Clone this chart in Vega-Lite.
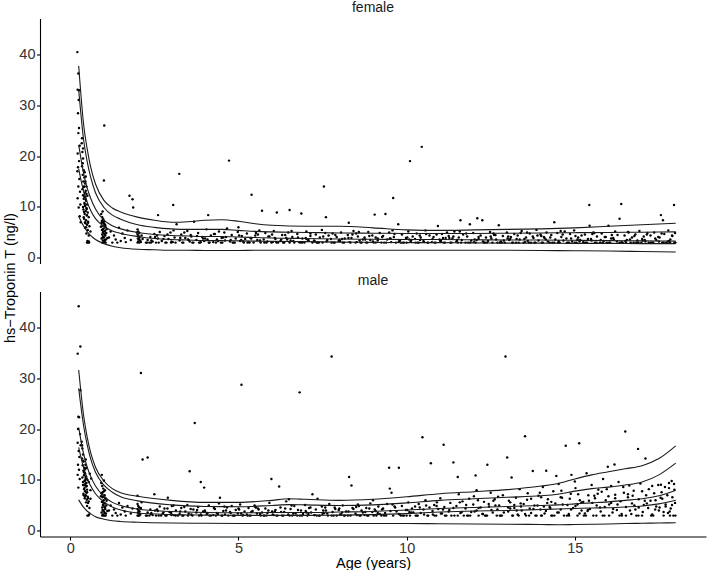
{
  "$schema": "https://vega.github.io/schema/vega-lite/v6.json",
  "padding": {"left": 2, "top": 0.5, "right": 2, "bottom": 0},
  "bounds": "flush",
  "spacing": 28,
  "config": {
    "font": "Liberation Sans",
    "view": {"stroke": null},
    "axis": {"grid": false, "domainColor": "#000", "domainWidth": 1.1, "tickColor": "#000", "tickWidth": 1.1, "tickSize": 3.5, "labelFontSize": 14.5, "labelColor": "#333", "labelPadding": 1.5, "labelFlush": false, "titleFontSize": 14.5, "titleFontWeight": "normal", "titleColor": "#000", "titlePadding": 1},
    "title": {"fontSize": 14, "fontWeight": "normal", "color": "#1a1a1a", "offset": 3.5, "anchor": "middle"}
  },
  "datasets": {
    "female_points": [
      {"age":0.21,"tnt":40.4},{"age":0.24,"tnt":36.2},{"age":0.22,"tnt":33.0},{"age":0.27,"tnt":32.9},{"age":0.25,"tnt":31.0},{"age":0.23,"tnt":28.4},{"age":0.26,"tnt":25.5},{"age":0.24,"tnt":24.5},{"age":0.28,"tnt":22.0},{"age":0.22,"tnt":20.5},{"age":0.26,"tnt":19.0},{"age":0.23,"tnt":17.8},{"age":0.21,"tnt":17.0},{"age":0.27,"tnt":15.5},{"age":0.24,"tnt":14.0},{"age":0.29,"tnt":13.0},{"age":0.22,"tnt":11.7},{"age":0.3,"tnt":10.5},{"age":0.25,"tnt":9.9},{"age":0.28,"tnt":8.2},{"age":0.31,"tnt":7.0},
      {"age":0.34,"tnt":22.5},{"age":0.36,"tnt":20.8},{"age":0.38,"tnt":19.5},{"age":0.35,"tnt":18.0},{"age":0.4,"tnt":17.2},{"age":0.37,"tnt":16.3},{"age":0.42,"tnt":15.8},{"age":0.39,"tnt":15.0},{"age":0.44,"tnt":14.6},{"age":0.41,"tnt":14.0},{"age":0.36,"tnt":13.5},{"age":0.46,"tnt":13.2},{"age":0.43,"tnt":12.8},{"age":0.38,"tnt":12.3},{"age":0.45,"tnt":12.0},{"age":0.4,"tnt":11.6},{"age":0.47,"tnt":11.2},{"age":0.42,"tnt":10.8},{"age":0.5,"tnt":10.5},{"age":0.44,"tnt":10.2},{"age":0.48,"tnt":9.8},{"age":0.39,"tnt":9.5},{"age":0.46,"tnt":9.2},{"age":0.52,"tnt":8.9},{"age":0.43,"tnt":8.6},{"age":0.49,"tnt":8.3},{"age":0.55,"tnt":8.0},{"age":0.41,"tnt":7.7},{"age":0.47,"tnt":7.4},{"age":0.53,"tnt":7.1},{"age":0.45,"tnt":6.8},{"age":0.5,"tnt":6.5},{"age":0.57,"tnt":6.2},{"age":0.44,"tnt":5.9},{"age":0.52,"tnt":5.5},{"age":0.6,"tnt":5.2},{"age":0.48,"tnt":4.8},{"age":0.55,"tnt":4.4},{"age":0.51,"tnt":3.3},{"age":0.53,"tnt":3.1},{"age":0.55,"tnt":3.2},{"age":0.52,"tnt":3.0},{"age":0.56,"tnt":3.0},{"age":0.5,"tnt":3.0},{"age":0.38,"tnt":21.5},{"age":0.35,"tnt":23.5},{"age":0.43,"tnt":16.8},{"age":0.48,"tnt":12.6},{"age":0.4,"tnt":13.9},{"age":0.37,"tnt":18.6},
      {"age":0.38,"tnt":10.0},{"age":0.41,"tnt":9.0},{"age":0.44,"tnt":7.0},{"age":0.46,"tnt":11.5},{"age":0.49,"tnt":9.6},{"age":0.42,"tnt":12.0},{"age":0.47,"tnt":6.0},{"age":0.5,"tnt":8.4},{"age":0.45,"tnt":15.0},{"age":0.43,"tnt":10.6},{"age":0.48,"tnt":14.0},{"age":0.4,"tnt":8.0},{"age":0.53,"tnt":6.9},{"age":0.46,"tnt":16.0},{"age":0.51,"tnt":12.2},
      {"age":0.92,"tnt":8.6},{"age":0.95,"tnt":8.0},{"age":0.98,"tnt":7.6},{"age":1.0,"tnt":7.2},{"age":0.93,"tnt":6.9},{"age":1.02,"tnt":6.6},{"age":0.96,"tnt":6.3},{"age":1.05,"tnt":6.0},{"age":0.99,"tnt":5.8},{"age":0.94,"tnt":5.5},{"age":1.03,"tnt":5.3},{"age":0.97,"tnt":5.0},{"age":1.01,"tnt":4.8},{"age":0.95,"tnt":4.6},{"age":1.04,"tnt":4.4},{"age":0.98,"tnt":4.2},{"age":1.0,"tnt":4.0},{"age":0.93,"tnt":3.8},{"age":1.06,"tnt":3.6},{"age":0.97,"tnt":3.4},{"age":1.02,"tnt":3.2},{"age":0.99,"tnt":3.0},{"age":0.95,"tnt":3.0},{"age":1.05,"tnt":3.0},{"age":1.08,"tnt":5.6},{"age":0.91,"tnt":6.1},{"age":1.0,"tnt":15.2},{"age":1.01,"tnt":26.0},{"age":0.94,"tnt":7.3},{"age":1.07,"tnt":4.9},{"age":0.96,"tnt":9.1},{"age":1.1,"tnt":3.9},
      {"age":0.97,"tnt":5.6},{"age":1.0,"tnt":6.8},{"age":1.03,"tnt":4.6},{"age":0.95,"tnt":7.0},{"age":1.02,"tnt":3.5},{"age":0.98,"tnt":5.2},{"age":1.04,"tnt":6.4},{"age":0.96,"tnt":4.0},
      {"age":1.2,"tnt":5.2},{"age":1.3,"tnt":4.4},{"age":1.35,"tnt":3.6},{"age":1.45,"tnt":5.9},{"age":1.5,"tnt":3.3},{"age":1.55,"tnt":4.8},{"age":1.62,"tnt":3.9},{"age":1.7,"tnt":5.4},{"age":1.76,"tnt":12.2},{"age":1.85,"tnt":11.5},{"age":1.87,"tnt":9.9},{"age":1.8,"tnt":3.5},{"age":1.65,"tnt":3.1},{"age":1.4,"tnt":3.0},{"age":1.25,"tnt":3.0},{"age":1.15,"tnt":4.0},
      {"age":2.0,"tnt":5.6},{"age":2.02,"tnt":5.2},{"age":2.05,"tnt":4.9},{"age":2.0,"tnt":4.6},{"age":2.03,"tnt":4.3},{"age":2.06,"tnt":4.0},{"age":2.01,"tnt":3.8},{"age":2.04,"tnt":3.6},{"age":2.08,"tnt":3.4},{"age":2.02,"tnt":3.2},{"age":2.05,"tnt":3.0},{"age":2.0,"tnt":3.0},{"age":2.1,"tnt":3.1},{"age":2.12,"tnt":4.4},{"age":2.15,"tnt":3.7},{"age":1.98,"tnt":5.0},
      {"age":2.25,"tnt":3.0},{"age":2.3,"tnt":3.5},{"age":2.38,"tnt":4.1},{"age":2.45,"tnt":3.2},{"age":2.5,"tnt":4.7},{"age":2.55,"tnt":3.0},{"age":2.6,"tnt":3.8},{"age":2.66,"tnt":5.1},{"age":2.4,"tnt":3.0},{"age":2.61,"tnt":8.4},
      {"age":2.72,"tnt":3.3},{"age":2.8,"tnt":4.3},{"age":2.86,"tnt":3.0},{"age":2.92,"tnt":3.7},{"age":2.98,"tnt":5.0},{"age":3.05,"tnt":3.1},{"age":3.1,"tnt":4.0},{"age":3.16,"tnt":6.6},{"age":3.24,"tnt":16.5},{"age":3.06,"tnt":10.4},{"age":3.0,"tnt":3.0},
      {"age":3.25,"tnt":3.4},{"age":3.3,"tnt":4.6},{"age":3.36,"tnt":3.0},{"age":3.42,"tnt":3.9},{"age":3.48,"tnt":5.3},{"age":3.55,"tnt":3.2},{"age":3.6,"tnt":4.2},{"age":3.66,"tnt":3.0},{"age":3.68,"tnt":7.1},{"age":3.5,"tnt":3.6},
      {"age":3.75,"tnt":3.5},{"age":3.8,"tnt":4.9},{"age":3.86,"tnt":3.0},{"age":3.92,"tnt":4.1},{"age":3.98,"tnt":3.3},{"age":4.05,"tnt":5.6},{"age":4.1,"tnt":8.4},{"age":4.12,"tnt":3.0},{"age":4.18,"tnt":4.4},{"age":3.95,"tnt":3.8},
      {"age":4.25,"tnt":3.1},{"age":4.3,"tnt":4.7},{"age":4.36,"tnt":3.6},{"age":4.42,"tnt":5.2},{"age":4.48,"tnt":3.0},{"age":4.55,"tnt":4.0},{"age":4.6,"tnt":3.4},{"age":4.66,"tnt":5.8},{"age":4.72,"tnt":19.1},{"age":4.5,"tnt":3.9},
      {"age":4.75,"tnt":3.2},{"age":4.8,"tnt":4.5},{"age":4.86,"tnt":3.0},{"age":4.92,"tnt":3.8},{"age":4.98,"tnt":5.1},{"age":5.05,"tnt":3.3},{"age":5.1,"tnt":4.3},{"age":5.16,"tnt":3.0},{"age":5.0,"tnt":6.0},{"age":5.2,"tnt":3.7},
      {"age":5.25,"tnt":4.8},{"age":5.3,"tnt":3.1},{"age":5.36,"tnt":3.9},{"age":5.39,"tnt":12.4},{"age":5.45,"tnt":3.0},{"age":5.5,"tnt":4.4},{"age":5.56,"tnt":3.5},{"age":5.62,"tnt":5.4},{"age":5.7,"tnt":9.25},{"age":5.66,"tnt":3.0},
      {"age":5.75,"tnt":3.6},{"age":5.8,"tnt":4.9},{"age":5.86,"tnt":3.2},{"age":5.92,"tnt":4.2},{"age":5.98,"tnt":3.0},{"age":6.05,"tnt":5.3},{"age":6.1,"tnt":3.7},{"age":6.14,"tnt":8.9},{"age":6.18,"tnt":3.0},{"age":6.0,"tnt":4.6},
      {"age":6.25,"tnt":3.3},{"age":6.3,"tnt":4.5},{"age":6.36,"tnt":3.0},{"age":6.42,"tnt":3.9},{"age":6.48,"tnt":5.0},{"age":6.52,"tnt":9.4},{"age":6.55,"tnt":3.4},{"age":6.6,"tnt":4.1},{"age":6.66,"tnt":3.0},{"age":6.45,"tnt":3.6},
      {"age":6.75,"tnt":4.7},{"age":6.8,"tnt":3.1},{"age":6.87,"tnt":8.7},{"age":6.9,"tnt":3.8},{"age":6.96,"tnt":3.0},{"age":7.02,"tnt":5.2},{"age":7.08,"tnt":3.5},{"age":7.14,"tnt":4.3},{"age":7.2,"tnt":3.0},{"age":7.0,"tnt":3.9},
      {"age":7.25,"tnt":3.4},{"age":7.3,"tnt":4.6},{"age":7.36,"tnt":3.0},{"age":7.42,"tnt":4.0},{"age":7.48,"tnt":5.5},{"age":7.54,"tnt":14.0},{"age":7.6,"tnt":8.0},{"age":7.62,"tnt":3.2},{"age":7.68,"tnt":4.4},{"age":7.5,"tnt":3.0},
      {"age":7.75,"tnt":3.7},{"age":7.8,"tnt":4.8},{"age":7.86,"tnt":3.0},{"age":7.92,"tnt":4.1},{"age":7.98,"tnt":3.3},{"age":8.05,"tnt":5.0},{"age":8.1,"tnt":3.0},{"age":8.16,"tnt":3.8},{"age":8.28,"tnt":6.9},{"age":8.0,"tnt":3.5},
      {"age":8.25,"tnt":4.5},{"age":8.3,"tnt":3.1},{"age":8.36,"tnt":3.9},{"age":8.42,"tnt":5.3},{"age":8.48,"tnt":3.0},{"age":8.55,"tnt":4.2},{"age":8.6,"tnt":3.4},{"age":8.66,"tnt":3.0},{"age":8.5,"tnt":4.8},{"age":8.7,"tnt":3.6},
      {"age":8.75,"tnt":4.0},{"age":8.8,"tnt":3.0},{"age":8.86,"tnt":5.1},{"age":8.92,"tnt":3.5},{"age":8.98,"tnt":4.4},{"age":9.05,"tnt":8.5},{"age":9.08,"tnt":3.0},{"age":9.14,"tnt":3.8},{"age":9.2,"tnt":4.9},{"age":9.0,"tnt":3.2},
      {"age":9.25,"tnt":3.0},{"age":9.3,"tnt":4.3},{"age":9.37,"tnt":8.6},{"age":9.42,"tnt":3.6},{"age":9.48,"tnt":5.0},{"age":9.54,"tnt":3.1},{"age":9.6,"tnt":11.75},{"age":9.62,"tnt":4.1},{"age":9.68,"tnt":3.0},{"age":9.5,"tnt":3.8},
      {"age":9.75,"tnt":6.6},{"age":9.8,"tnt":3.4},{"age":9.86,"tnt":4.6},{"age":9.92,"tnt":3.0},{"age":9.98,"tnt":3.9},{"age":10.05,"tnt":5.2},{"age":10.1,"tnt":19.0},{"age":10.12,"tnt":3.2},{"age":10.18,"tnt":4.2},{"age":10.0,"tnt":3.0},
      {"age":10.25,"tnt":3.7},{"age":10.3,"tnt":4.8},{"age":10.36,"tnt":3.0},{"age":10.45,"tnt":21.8},{"age":10.42,"tnt":4.0},{"age":10.5,"tnt":3.3},{"age":10.56,"tnt":5.4},{"age":10.62,"tnt":3.0},{"age":10.68,"tnt":4.4},{"age":10.4,"tnt":3.5},
      {"age":10.75,"tnt":3.1},{"age":10.8,"tnt":4.1},{"age":10.86,"tnt":3.0},{"age":10.93,"tnt":6.25},{"age":10.98,"tnt":3.6},{"age":11.05,"tnt":4.7},{"age":11.1,"tnt":3.0},{"age":11.16,"tnt":3.9},{"age":11.2,"tnt":5.0},{"age":11.0,"tnt":3.3},
      {"age":11.25,"tnt":4.3},{"age":11.3,"tnt":3.0},{"age":11.36,"tnt":3.8},{"age":11.42,"tnt":5.2},{"age":11.48,"tnt":3.2},{"age":11.55,"tnt":4.0},{"age":11.6,"tnt":7.4},{"age":11.62,"tnt":3.0},{"age":11.68,"tnt":4.6},{"age":11.5,"tnt":3.5},
      {"age":11.75,"tnt":3.0},{"age":11.8,"tnt":4.2},{"age":11.88,"tnt":6.6},{"age":11.92,"tnt":3.4},{"age":11.98,"tnt":4.9},{"age":12.05,"tnt":3.0},{"age":12.1,"tnt":7.8},{"age":12.14,"tnt":3.7},{"age":12.2,"tnt":4.4},{"age":12.0,"tnt":3.1},
      {"age":12.25,"tnt":7.4},{"age":12.3,"tnt":3.0},{"age":12.36,"tnt":4.0},{"age":12.42,"tnt":3.3},{"age":12.48,"tnt":5.1},{"age":12.55,"tnt":3.0},{"age":12.6,"tnt":4.5},{"age":12.66,"tnt":3.6},{"age":12.7,"tnt":3.0},{"age":12.5,"tnt":4.2},
      {"age":12.74,"tnt":6.4},{"age":12.8,"tnt":3.2},{"age":12.86,"tnt":4.3},{"age":12.92,"tnt":3.0},{"age":12.98,"tnt":5.0},{"age":13.05,"tnt":3.5},{"age":13.1,"tnt":4.1},{"age":13.16,"tnt":3.0},{"age":13.2,"tnt":4.7},{"age":13.0,"tnt":3.8},
      {"age":13.25,"tnt":3.0},{"age":13.3,"tnt":4.4},{"age":13.36,"tnt":3.6},{"age":13.42,"tnt":5.3},{"age":13.48,"tnt":3.0},{"age":13.55,"tnt":4.0},{"age":13.6,"tnt":3.3},{"age":13.66,"tnt":4.8},{"age":13.7,"tnt":3.0},{"age":13.5,"tnt":3.7},
      {"age":13.75,"tnt":4.2},{"age":13.8,"tnt":3.0},{"age":13.86,"tnt":5.5},{"age":13.92,"tnt":3.4},{"age":13.98,"tnt":4.6},{"age":14.05,"tnt":3.0},{"age":14.1,"tnt":3.9},{"age":14.16,"tnt":5.0},{"age":14.2,"tnt":3.2},{"age":14.0,"tnt":4.3},
      {"age":14.25,"tnt":3.0},{"age":14.3,"tnt":4.5},{"age":14.39,"tnt":7.0},{"age":14.42,"tnt":3.6},{"age":14.48,"tnt":4.9},{"age":14.55,"tnt":3.0},{"age":14.6,"tnt":4.1},{"age":14.66,"tnt":3.4},{"age":14.7,"tnt":5.2},{"age":14.5,"tnt":3.0},
      {"age":14.75,"tnt":3.8},{"age":14.8,"tnt":3.0},{"age":14.86,"tnt":4.7},{"age":14.92,"tnt":3.2},{"age":14.98,"tnt":5.4},{"age":15.05,"tnt":3.0},{"age":15.1,"tnt":4.0},{"age":15.16,"tnt":3.5},{"age":15.2,"tnt":4.4},{"age":15.0,"tnt":3.0},
      {"age":15.25,"tnt":3.1},{"age":15.3,"tnt":4.6},{"age":15.36,"tnt":3.0},{"age":15.43,"tnt":10.4},{"age":15.44,"tnt":6.3},{"age":15.48,"tnt":3.7},{"age":15.55,"tnt":5.0},{"age":15.6,"tnt":3.0},{"age":15.66,"tnt":4.2},{"age":15.5,"tnt":3.4},
      {"age":15.75,"tnt":3.0},{"age":15.8,"tnt":4.8},{"age":15.86,"tnt":3.3},{"age":15.92,"tnt":4.1},{"age":16.0,"tnt":6.3},{"age":16.05,"tnt":3.0},{"age":16.1,"tnt":4.5},{"age":16.16,"tnt":3.6},{"age":16.2,"tnt":5.2},{"age":15.95,"tnt":3.0},
      {"age":16.25,"tnt":3.2},{"age":16.33,"tnt":7.7},{"age":16.38,"tnt":10.6},{"age":16.42,"tnt":3.0},{"age":16.48,"tnt":4.4},{"age":16.55,"tnt":3.5},{"age":16.6,"tnt":5.0},{"age":16.66,"tnt":3.0},{"age":16.7,"tnt":4.0},{"age":16.5,"tnt":3.3},
      {"age":16.75,"tnt":3.0},{"age":16.8,"tnt":4.6},{"age":16.86,"tnt":3.4},{"age":16.92,"tnt":5.3},{"age":16.98,"tnt":3.0},{"age":17.05,"tnt":4.2},{"age":17.1,"tnt":3.2},{"age":17.16,"tnt":4.9},{"age":17.2,"tnt":3.0},{"age":17.0,"tnt":3.7},
      {"age":17.25,"tnt":4.4},{"age":17.3,"tnt":3.0},{"age":17.36,"tnt":5.0},{"age":17.42,"tnt":3.5},{"age":17.48,"tnt":4.1},{"age":17.56,"tnt":8.4},{"age":17.62,"tnt":7.4},{"age":17.6,"tnt":3.0},{"age":17.66,"tnt":4.7},{"age":17.5,"tnt":3.2},
      {"age":17.72,"tnt":3.0},{"age":17.78,"tnt":5.4},{"age":17.84,"tnt":3.6},{"age":17.9,"tnt":4.3},{"age":17.95,"tnt":10.4},{"age":17.96,"tnt":3.0},{"age":17.98,"tnt":4.9},{"age":17.8,"tnt":3.3},
      {"age":2.28,"tnt":3.0},{"age":2.41,"tnt":3.4},{"age":2.52,"tnt":4.1},{"age":2.63,"tnt":3.0},{"age":2.77,"tnt":3.7},{"age":2.89,"tnt":4.6},{"age":3.01,"tnt":3.2},{"age":3.13,"tnt":3.0},{"age":3.27,"tnt":3.9},{"age":3.39,"tnt":5.0},{"age":3.52,"tnt":3.5},{"age":3.63,"tnt":3.0},{"age":3.77,"tnt":4.3},{"age":3.88,"tnt":3.1},{"age":4.01,"tnt":3.8},{"age":4.14,"tnt":3.0},{"age":4.27,"tnt":4.7},{"age":4.39,"tnt":3.3},{"age":4.52,"tnt":3.0},{"age":4.63,"tnt":4.1},{"age":4.77,"tnt":3.5},{"age":4.89,"tnt":3.0},{"age":5.02,"tnt":4.4},{"age":5.14,"tnt":3.2},{"age":5.27,"tnt":3.0},{"age":5.38,"tnt":3.8},{"age":5.52,"tnt":4.9},{"age":5.64,"tnt":3.4},{"age":5.77,"tnt":3.0},{"age":5.89,"tnt":4.2},{"age":6.02,"tnt":3.1},{"age":6.13,"tnt":3.0},{"age":6.27,"tnt":3.6},{"age":6.39,"tnt":4.5},{"age":6.52,"tnt":3.0},{"age":6.63,"tnt":3.3},{"age":6.77,"tnt":4.0},{"age":6.89,"tnt":3.0},{"age":7.02,"tnt":3.7},{"age":7.14,"tnt":4.8},{"age":7.27,"tnt":3.2},{"age":7.39,"tnt":3.0},{"age":7.52,"tnt":4.2},{"age":7.64,"tnt":3.5},{"age":7.77,"tnt":3.0},{"age":7.88,"tnt":4.5},{"age":8.02,"tnt":3.3},{"age":8.14,"tnt":3.0},{"age":8.27,"tnt":3.9},{"age":8.39,"tnt":4.6},{"age":8.52,"tnt":3.1},{"age":8.63,"tnt":3.0},{"age":8.77,"tnt":3.6},{"age":8.89,"tnt":4.3},{"age":9.02,"tnt":3.0},{"age":9.14,"tnt":3.4},{"age":9.27,"tnt":4.1},{"age":9.39,"tnt":3.0},{"age":9.52,"tnt":3.8},{"age":9.64,"tnt":4.7},{"age":9.77,"tnt":3.2},{"age":9.89,"tnt":3.0},{"age":10.02,"tnt":4.0},{"age":10.14,"tnt":3.5},{"age":10.27,"tnt":3.0},{"age":10.39,"tnt":4.4},{"age":10.52,"tnt":3.1},{"age":10.64,"tnt":3.0},{"age":10.77,"tnt":3.7},{"age":10.89,"tnt":4.6},{"age":11.02,"tnt":3.3},{"age":11.14,"tnt":3.0},{"age":11.27,"tnt":3.9},{"age":11.39,"tnt":4.2},{"age":11.52,"tnt":3.0},{"age":11.64,"tnt":3.5},{"age":11.77,"tnt":4.8},{"age":11.89,"tnt":3.0},{"age":12.02,"tnt":3.6},{"age":12.14,"tnt":4.1},{"age":12.27,"tnt":3.2},{"age":12.39,"tnt":3.0},{"age":12.52,"tnt":3.8},{"age":12.64,"tnt":4.5},{"age":12.77,"tnt":3.0},{"age":12.89,"tnt":3.4},{"age":13.02,"tnt":4.2},{"age":13.14,"tnt":3.0},{"age":13.27,"tnt":3.7},{"age":13.39,"tnt":4.9},{"age":13.52,"tnt":3.1},{"age":13.64,"tnt":3.0},{"age":13.77,"tnt":3.9},{"age":13.89,"tnt":4.4},{"age":14.02,"tnt":3.0},{"age":14.14,"tnt":3.6},{"age":14.27,"tnt":4.0},{"age":14.39,"tnt":3.0},{"age":14.52,"tnt":3.3},{"age":14.64,"tnt":4.6},{"age":14.77,"tnt":3.0},{"age":14.89,"tnt":3.8},{"age":15.02,"tnt":4.3},{"age":15.14,"tnt":3.2},{"age":15.27,"tnt":3.0},{"age":15.39,"tnt":3.7},{"age":15.52,"tnt":4.7},{"age":15.64,"tnt":3.0},{"age":15.77,"tnt":3.5},{"age":15.89,"tnt":4.1},{"age":16.02,"tnt":3.0},{"age":16.14,"tnt":3.9},{"age":16.27,"tnt":4.5},{"age":16.39,"tnt":3.1},{"age":16.52,"tnt":3.0},{"age":16.64,"tnt":3.6},{"age":16.77,"tnt":4.3},{"age":16.89,"tnt":3.0},{"age":17.02,"tnt":3.4},{"age":17.14,"tnt":4.6},{"age":17.27,"tnt":3.0},{"age":17.39,"tnt":3.8},{"age":17.52,"tnt":4.0},{"age":17.64,"tnt":3.0},{"age":17.77,"tnt":3.2},{"age":17.89,"tnt":4.4},{"age":17.99,"tnt":3.0},
      {"age":2.35,"tnt":3.0},{"age":2.58,"tnt":4.4},{"age":2.83,"tnt":3.0},{"age":3.07,"tnt":5.4},{"age":3.33,"tnt":3.0},{"age":3.58,"tnt":4.5},{"age":3.83,"tnt":3.0},{"age":4.08,"tnt":3.6},{"age":4.33,"tnt":3.0},{"age":4.58,"tnt":5.0},{"age":4.83,"tnt":3.0},{"age":5.08,"tnt":3.5},{"age":5.33,"tnt":3.0},{"age":5.58,"tnt":4.6},{"age":5.83,"tnt":3.0},{"age":6.08,"tnt":3.9},{"age":6.33,"tnt":3.0},{"age":6.58,"tnt":5.3},{"age":6.83,"tnt":3.0},{"age":7.08,"tnt":3.4},{"age":7.33,"tnt":3.0},{"age":7.58,"tnt":4.9},{"age":7.83,"tnt":3.0},{"age":8.08,"tnt":3.7},{"age":8.33,"tnt":3.0},{"age":8.58,"tnt":5.1},{"age":8.83,"tnt":3.0},{"age":9.08,"tnt":4.0},{"age":9.33,"tnt":3.0},{"age":9.58,"tnt":5.4},{"age":9.83,"tnt":3.0},{"age":10.08,"tnt":3.6},{"age":10.33,"tnt":3.0},{"age":10.58,"tnt":4.7},{"age":10.83,"tnt":3.0},{"age":11.08,"tnt":3.9},{"age":11.33,"tnt":3.0},{"age":11.58,"tnt":5.2},{"age":11.83,"tnt":3.0},{"age":12.08,"tnt":3.5},{"age":12.33,"tnt":3.0},{"age":12.58,"tnt":4.8},{"age":12.83,"tnt":3.0},{"age":13.08,"tnt":3.7},{"age":13.33,"tnt":3.0},{"age":13.58,"tnt":5.0},{"age":13.83,"tnt":3.0},{"age":14.08,"tnt":4.1},{"age":14.33,"tnt":3.0},{"age":14.58,"tnt":5.3},{"age":14.83,"tnt":3.0},{"age":15.08,"tnt":3.6},{"age":15.33,"tnt":3.0},{"age":15.58,"tnt":4.9},{"age":15.83,"tnt":3.0},{"age":16.08,"tnt":3.8},{"age":16.33,"tnt":3.0},{"age":16.58,"tnt":5.1},{"age":16.83,"tnt":3.0},{"age":17.08,"tnt":3.5},{"age":17.33,"tnt":3.0},{"age":17.58,"tnt":4.8},{"age":17.83,"tnt":3.0}
    ],
    "male_points": [
      {"age":0.25,"tnt":44.1},{"age":0.3,"tnt":36.2},{"age":0.22,"tnt":34.8},{"age":0.24,"tnt":22.4},{"age":0.26,"tnt":22.3},{"age":0.23,"tnt":20.0},{"age":0.22,"tnt":17.3},{"age":0.25,"tnt":15.7},{"age":0.27,"tnt":14.5},{"age":0.23,"tnt":13.0},{"age":0.26,"tnt":12.0},{"age":0.22,"tnt":11.0},{"age":0.28,"tnt":10.2},{"age":0.24,"tnt":8.5},{"age":0.3,"tnt":27.6},{"age":0.29,"tnt":19.0},{"age":0.31,"tnt":16.8},
      {"age":0.34,"tnt":17.5},{"age":0.36,"tnt":16.2},{"age":0.38,"tnt":15.0},{"age":0.35,"tnt":14.2},{"age":0.4,"tnt":13.6},{"age":0.37,"tnt":12.9},{"age":0.42,"tnt":12.4},{"age":0.39,"tnt":11.8},{"age":0.44,"tnt":11.3},{"age":0.41,"tnt":10.9},{"age":0.36,"tnt":10.5},{"age":0.46,"tnt":10.2},{"age":0.43,"tnt":9.9},{"age":0.38,"tnt":9.6},{"age":0.45,"tnt":9.3},{"age":0.4,"tnt":9.0},{"age":0.47,"tnt":8.7},{"age":0.42,"tnt":8.4},{"age":0.5,"tnt":8.1},{"age":0.44,"tnt":7.8},{"age":0.48,"tnt":7.5},{"age":0.39,"tnt":7.3},{"age":0.46,"tnt":7.0},{"age":0.52,"tnt":6.7},{"age":0.43,"tnt":6.4},{"age":0.49,"tnt":6.1},{"age":0.55,"tnt":5.8},{"age":0.41,"tnt":11.5},{"age":0.47,"tnt":10.7},{"age":0.53,"tnt":5.5},{"age":0.45,"tnt":8.9},{"age":0.5,"tnt":4.9},{"age":0.57,"tnt":4.5},{"age":0.44,"tnt":12.1},{"age":0.48,"tnt":9.4},{"age":0.51,"tnt":3.0},{"age":0.54,"tnt":3.0},{"age":0.56,"tnt":3.2},{"age":0.6,"tnt":6.3},{"age":0.58,"tnt":11.2},{"age":0.62,"tnt":10.3},{"age":0.38,"tnt":13.8},{"age":0.35,"tnt":16.8},{"age":0.6,"tnt":8.0},{"age":0.55,"tnt":9.6},
      {"age":0.38,"tnt":9.0},{"age":0.41,"tnt":8.2},{"age":0.44,"tnt":6.8},{"age":0.46,"tnt":10.5},{"age":0.49,"tnt":8.8},{"age":0.42,"tnt":11.0},{"age":0.47,"tnt":5.6},{"age":0.5,"tnt":7.6},{"age":0.45,"tnt":13.0},{"age":0.43,"tnt":9.8},{"age":0.48,"tnt":12.4},{"age":0.4,"tnt":7.0},{"age":0.53,"tnt":6.4},{"age":0.46,"tnt":14.0},{"age":0.51,"tnt":10.0},
      {"age":0.92,"tnt":9.4},{"age":0.95,"tnt":8.8},{"age":0.98,"tnt":8.3},{"age":1.0,"tnt":7.8},{"age":0.93,"tnt":7.4},{"age":1.02,"tnt":7.0},{"age":0.96,"tnt":6.6},{"age":1.05,"tnt":6.3},{"age":0.99,"tnt":6.0},{"age":0.94,"tnt":5.7},{"age":1.03,"tnt":5.4},{"age":0.97,"tnt":5.1},{"age":1.01,"tnt":4.8},{"age":0.95,"tnt":4.6},{"age":1.04,"tnt":4.3},{"age":0.98,"tnt":4.0},{"age":1.0,"tnt":3.8},{"age":0.93,"tnt":3.6},{"age":1.06,"tnt":3.4},{"age":0.97,"tnt":3.2},{"age":1.02,"tnt":3.0},{"age":0.99,"tnt":3.0},{"age":0.95,"tnt":3.0},{"age":1.05,"tnt":3.0},{"age":1.08,"tnt":5.9},{"age":0.91,"tnt":6.8},{"age":0.94,"tnt":11.0},{"age":1.0,"tnt":9.9},{"age":1.07,"tnt":5.0},{"age":0.96,"tnt":7.6},{"age":1.1,"tnt":3.9},{"age":1.03,"tnt":8.0},
      {"age":0.97,"tnt":5.6},{"age":1.0,"tnt":6.8},{"age":1.03,"tnt":4.6},{"age":0.95,"tnt":7.2},{"age":1.02,"tnt":3.5},{"age":0.98,"tnt":5.2},{"age":1.04,"tnt":6.4},{"age":0.96,"tnt":4.1},
      {"age":1.2,"tnt":5.0},{"age":1.3,"tnt":4.2},{"age":1.35,"tnt":3.5},{"age":1.45,"tnt":5.5},{"age":1.5,"tnt":3.2},{"age":1.55,"tnt":4.6},{"age":1.62,"tnt":3.8},{"age":1.7,"tnt":4.9},{"age":1.8,"tnt":3.4},{"age":1.65,"tnt":3.0},{"age":1.4,"tnt":3.0},{"age":1.25,"tnt":3.0},{"age":1.15,"tnt":4.0},{"age":1.85,"tnt":4.4},
      {"age":2.0,"tnt":5.3},{"age":2.02,"tnt":4.9},{"age":2.05,"tnt":4.6},{"age":2.0,"tnt":4.3},{"age":2.03,"tnt":4.0},{"age":2.06,"tnt":3.8},{"age":2.01,"tnt":3.6},{"age":2.04,"tnt":3.4},{"age":2.08,"tnt":3.2},{"age":2.02,"tnt":3.0},{"age":2.05,"tnt":3.0},{"age":2.0,"tnt":3.0},{"age":2.1,"tnt":4.5},{"age":2.12,"tnt":5.6},{"age":2.1,"tnt":31.0},{"age":2.15,"tnt":14.0},{"age":2.3,"tnt":14.4},{"age":2.0,"tnt":6.9},
      {"age":2.25,"tnt":3.0},{"age":2.3,"tnt":3.6},{"age":2.38,"tnt":4.2},{"age":2.45,"tnt":3.1},{"age":2.5,"tnt":7.2},{"age":2.55,"tnt":3.0},{"age":2.6,"tnt":3.9},{"age":2.66,"tnt":4.8},{"age":2.4,"tnt":3.3},{"age":2.7,"tnt":3.0},
      {"age":2.75,"tnt":3.4},{"age":2.8,"tnt":4.4},{"age":2.86,"tnt":3.0},{"age":2.9,"tnt":6.5},{"age":2.95,"tnt":3.7},{"age":3.02,"tnt":4.9},{"age":3.08,"tnt":3.1},{"age":3.14,"tnt":4.0},{"age":3.2,"tnt":3.0},{"age":3.0,"tnt":3.5},
      {"age":3.25,"tnt":3.3},{"age":3.3,"tnt":4.5},{"age":3.36,"tnt":3.0},{"age":3.42,"tnt":3.8},{"age":3.48,"tnt":5.1},{"age":3.55,"tnt":11.7},{"age":3.6,"tnt":3.2},{"age":3.66,"tnt":4.2},{"age":3.7,"tnt":21.2},{"age":3.5,"tnt":3.0},
      {"age":3.75,"tnt":3.6},{"age":3.8,"tnt":4.7},{"age":3.88,"tnt":9.6},{"age":3.9,"tnt":3.0},{"age":3.98,"tnt":8.5},{"age":4.0,"tnt":4.0},{"age":4.06,"tnt":3.3},{"age":4.12,"tnt":5.0},{"age":4.18,"tnt":3.0},{"age":3.95,"tnt":3.8},
      {"age":4.25,"tnt":3.1},{"age":4.3,"tnt":4.3},{"age":4.36,"tnt":3.5},{"age":4.42,"tnt":5.4},{"age":4.45,"tnt":6.5},{"age":4.5,"tnt":3.0},{"age":4.55,"tnt":3.9},{"age":4.6,"tnt":3.2},{"age":4.66,"tnt":4.6},{"age":4.7,"tnt":3.0},
      {"age":4.75,"tnt":3.7},{"age":4.8,"tnt":4.9},{"age":4.86,"tnt":3.0},{"age":4.92,"tnt":4.1},{"age":4.98,"tnt":3.4},{"age":5.05,"tnt":5.2},{"age":5.09,"tnt":28.7},{"age":5.12,"tnt":3.0},{"age":5.18,"tnt":3.8},{"age":5.0,"tnt":4.4},
      {"age":5.25,"tnt":3.2},{"age":5.3,"tnt":4.5},{"age":5.36,"tnt":3.0},{"age":5.42,"tnt":3.9},{"age":5.48,"tnt":5.0},{"age":5.55,"tnt":3.4},{"age":5.6,"tnt":4.2},{"age":5.66,"tnt":3.0},{"age":5.7,"tnt":3.6},{"age":5.5,"tnt":4.7},
      {"age":5.75,"tnt":3.0},{"age":5.8,"tnt":4.4},{"age":5.86,"tnt":3.5},{"age":5.92,"tnt":5.5},{"age":5.98,"tnt":10.2},{"age":6.05,"tnt":3.1},{"age":6.1,"tnt":4.1},{"age":6.16,"tnt":3.0},{"age":6.21,"tnt":8.7},{"age":6.0,"tnt":3.8},
      {"age":6.25,"tnt":4.6},{"age":6.3,"tnt":3.0},{"age":6.36,"tnt":3.7},{"age":6.42,"tnt":5.8},{"age":6.48,"tnt":3.2},{"age":6.55,"tnt":4.3},{"age":6.6,"tnt":3.0},{"age":6.66,"tnt":4.9},{"age":6.7,"tnt":3.4},{"age":6.5,"tnt":6.2},
      {"age":6.75,"tnt":3.0},{"age":6.82,"tnt":27.2},{"age":6.86,"tnt":4.0},{"age":6.92,"tnt":3.3},{"age":6.98,"tnt":5.1},{"age":7.05,"tnt":3.0},{"age":7.1,"tnt":4.5},{"age":7.16,"tnt":3.6},{"age":7.2,"tnt":7.2},{"age":7.0,"tnt":3.9},
      {"age":7.25,"tnt":3.1},{"age":7.3,"tnt":4.2},{"age":7.35,"tnt":6.3},{"age":7.42,"tnt":3.0},{"age":7.48,"tnt":4.8},{"age":7.55,"tnt":3.5},{"age":7.6,"tnt":4.0},{"age":7.66,"tnt":3.0},{"age":7.7,"tnt":5.3},{"age":7.5,"tnt":3.3},
      {"age":7.77,"tnt":34.25},{"age":7.8,"tnt":3.7},{"age":7.86,"tnt":4.6},{"age":7.92,"tnt":3.0},{"age":7.98,"tnt":4.1},{"age":8.05,"tnt":3.2},{"age":8.1,"tnt":5.0},{"age":8.16,"tnt":3.0},{"age":8.2,"tnt":3.8},{"age":8.0,"tnt":4.4},
      {"age":8.25,"tnt":3.0},{"age":8.29,"tnt":10.6},{"age":8.36,"tnt":8.9},{"age":8.42,"tnt":4.3},{"age":8.48,"tnt":3.4},{"age":8.55,"tnt":5.2},{"age":8.6,"tnt":3.0},{"age":8.66,"tnt":4.0},{"age":8.7,"tnt":3.6},{"age":8.5,"tnt":4.7},
      {"age":8.75,"tnt":3.1},{"age":8.8,"tnt":4.5},{"age":8.86,"tnt":3.0},{"age":8.92,"tnt":5.4},{"age":8.98,"tnt":3.7},{"age":9.05,"tnt":4.2},{"age":9.1,"tnt":3.0},{"age":9.16,"tnt":4.8},{"age":9.2,"tnt":3.3},{"age":9.0,"tnt":6.0},
      {"age":9.25,"tnt":3.0},{"age":9.3,"tnt":4.4},{"age":9.36,"tnt":3.5},{"age":9.42,"tnt":5.3},{"age":9.48,"tnt":12.4},{"age":9.5,"tnt":8.3},{"age":9.55,"tnt":7.5},{"age":9.6,"tnt":3.0},{"age":9.66,"tnt":4.6},{"age":9.7,"tnt":3.8},
      {"age":9.77,"tnt":12.4},{"age":9.8,"tnt":3.2},{"age":9.86,"tnt":4.9},{"age":9.92,"tnt":3.0},{"age":9.98,"tnt":4.1},{"age":10.05,"tnt":5.6},{"age":10.1,"tnt":3.0},{"age":10.16,"tnt":4.4},{"age":10.2,"tnt":3.6},{"age":10.0,"tnt":3.0},
      {"age":10.25,"tnt":4.8},{"age":10.3,"tnt":3.0},{"age":10.36,"tnt":5.3},{"age":10.42,"tnt":3.5},{"age":10.47,"tnt":18.4},{"age":10.5,"tnt":4.2},{"age":10.56,"tnt":6.0},{"age":10.62,"tnt":3.0},{"age":10.68,"tnt":4.6},{"age":10.72,"tnt":13.3},
      {"age":10.78,"tnt":3.2},{"age":10.82,"tnt":5.1},{"age":10.88,"tnt":3.0},{"age":10.94,"tnt":4.3},{"age":11.0,"tnt":6.4},{"age":11.05,"tnt":3.4},{"age":11.1,"tnt":16.9},{"age":11.12,"tnt":4.7},{"age":11.18,"tnt":3.0},{"age":10.9,"tnt":5.6},
      {"age":11.25,"tnt":3.8},{"age":11.3,"tnt":5.5},{"age":11.39,"tnt":13.45},{"age":11.42,"tnt":3.0},{"age":11.48,"tnt":4.9},{"age":11.52,"tnt":10.6},{"age":11.55,"tnt":7.2},{"age":11.6,"tnt":3.5},{"age":11.66,"tnt":5.8},{"age":11.7,"tnt":3.0},
      {"age":11.75,"tnt":4.4},{"age":11.8,"tnt":3.0},{"age":11.86,"tnt":6.3},{"age":11.92,"tnt":3.7},{"age":11.98,"tnt":5.2},{"age":12.05,"tnt":10.9},{"age":12.08,"tnt":8.0},{"age":12.14,"tnt":3.0},{"age":12.2,"tnt":4.6},{"age":12.0,"tnt":6.8},
      {"age":12.25,"tnt":3.3},{"age":12.3,"tnt":5.7},{"age":12.36,"tnt":3.0},{"age":12.4,"tnt":13.0},{"age":12.45,"tnt":4.8},{"age":12.5,"tnt":7.5},{"age":12.56,"tnt":3.6},{"age":12.62,"tnt":6.2},{"age":12.68,"tnt":3.0},{"age":12.7,"tnt":4.2},
      {"age":12.75,"tnt":5.0},{"age":12.8,"tnt":3.0},{"age":12.86,"tnt":7.0},{"age":12.94,"tnt":34.25},{"age":12.99,"tnt":14.4},{"age":13.02,"tnt":3.8},{"age":13.08,"tnt":5.6},{"age":13.12,"tnt":10.5},{"age":13.16,"tnt":3.0},{"age":13.2,"tnt":4.5},
      {"age":13.25,"tnt":6.5},{"age":13.3,"tnt":3.2},{"age":13.36,"tnt":8.2},{"age":13.42,"tnt":4.0},{"age":13.48,"tnt":5.3},{"age":13.52,"tnt":18.6},{"age":13.55,"tnt":3.0},{"age":13.6,"tnt":7.4},{"age":13.66,"tnt":4.4},{"age":13.7,"tnt":3.5},
      {"age":13.75,"tnt":11.75},{"age":13.8,"tnt":5.0},{"age":13.86,"tnt":3.0},{"age":13.92,"tnt":6.9},{"age":13.98,"tnt":4.2},{"age":14.05,"tnt":8.6},{"age":14.1,"tnt":3.4},{"age":14.15,"tnt":11.8},{"age":14.18,"tnt":5.5},{"age":14.0,"tnt":3.0},{"age":14.2,"tnt":6.2},
      {"age":14.25,"tnt":4.7},{"age":14.3,"tnt":3.0},{"age":14.36,"tnt":7.8},{"age":14.42,"tnt":5.4},{"age":14.48,"tnt":3.6},{"age":14.52,"tnt":9.2},{"age":14.58,"tnt":4.2},{"age":14.62,"tnt":6.5},{"age":14.68,"tnt":3.0},{"age":14.73,"tnt":16.7},{"age":14.45,"tnt":10.8},
      {"age":14.78,"tnt":5.1},{"age":14.82,"tnt":3.3},{"age":14.88,"tnt":7.3},{"age":14.9,"tnt":11.0},{"age":14.95,"tnt":4.5},{"age":15.02,"tnt":8.4},{"age":15.08,"tnt":3.0},{"age":15.13,"tnt":17.2},{"age":15.15,"tnt":6.0},{"age":15.2,"tnt":4.0},{"age":15.0,"tnt":9.7},
      {"age":15.25,"tnt":5.7},{"age":15.3,"tnt":3.4},{"age":15.35,"tnt":11.3},{"age":15.4,"tnt":7.0},{"age":15.45,"tnt":4.3},{"age":15.5,"tnt":9.0},{"age":15.55,"tnt":3.0},{"age":15.6,"tnt":6.4},{"age":15.65,"tnt":5.0},{"age":15.7,"tnt":8.1},{"age":15.38,"tnt":3.9},
      {"age":15.75,"tnt":4.6},{"age":15.8,"tnt":7.7},{"age":15.84,"tnt":10.2},{"age":15.88,"tnt":3.0},{"age":15.92,"tnt":6.0},{"age":15.98,"tnt":12.6},{"age":16.02,"tnt":5.2},{"age":16.08,"tnt":8.8},{"age":16.12,"tnt":3.6},{"age":16.18,"tnt":13.05},{"age":16.2,"tnt":7.1},
      {"age":16.25,"tnt":4.1},{"age":16.3,"tnt":9.6},{"age":16.36,"tnt":5.8},{"age":16.4,"tnt":3.0},{"age":16.46,"tnt":7.5},{"age":16.5,"tnt":19.5},{"age":16.52,"tnt":4.7},{"age":16.58,"tnt":6.6},{"age":16.62,"tnt":8.9},{"age":16.68,"tnt":3.3},{"age":16.7,"tnt":5.4},
      {"age":16.75,"tnt":7.9},{"age":16.8,"tnt":4.2},{"age":16.88,"tnt":16.1},{"age":16.9,"tnt":6.2},{"age":16.95,"tnt":9.3},{"age":17.0,"tnt":3.0},{"age":17.05,"tnt":5.1},{"age":17.1,"tnt":14.2},{"age":17.12,"tnt":7.0},{"age":17.18,"tnt":4.5},{"age":17.2,"tnt":8.2},
      {"age":17.25,"tnt":5.9},{"age":17.3,"tnt":3.2},{"age":17.36,"tnt":7.4},{"age":17.42,"tnt":4.8},{"age":17.48,"tnt":9.0},{"age":17.56,"tnt":9.05},{"age":17.6,"tnt":6.3},{"age":17.64,"tnt":3.7},{"age":17.68,"tnt":8.6},{"age":17.7,"tnt":5.2},{"age":17.5,"tnt":4.0},
      {"age":17.75,"tnt":7.0},{"age":17.8,"tnt":9.4},{"age":17.85,"tnt":4.4},{"age":17.9,"tnt":6.6},{"age":17.93,"tnt":3.0},{"age":17.96,"tnt":8.1},{"age":17.98,"tnt":5.5},{"age":17.88,"tnt":9.8},{"age":17.82,"tnt":3.8},
      {"age":2.28,"tnt":3.0},{"age":2.41,"tnt":3.5},{"age":2.52,"tnt":4.0},{"age":2.63,"tnt":3.0},{"age":2.77,"tnt":3.6},{"age":2.89,"tnt":4.4},{"age":3.01,"tnt":3.1},{"age":3.13,"tnt":3.0},{"age":3.27,"tnt":3.8},{"age":3.39,"tnt":4.7},{"age":3.52,"tnt":3.4},{"age":3.63,"tnt":3.0},{"age":3.77,"tnt":4.1},{"age":3.88,"tnt":3.2},{"age":4.01,"tnt":3.7},{"age":4.14,"tnt":3.0},{"age":4.27,"tnt":4.5},{"age":4.39,"tnt":3.3},{"age":4.52,"tnt":3.0},{"age":4.63,"tnt":4.0},{"age":4.77,"tnt":3.5},{"age":4.89,"tnt":3.0},{"age":5.02,"tnt":4.2},{"age":5.14,"tnt":3.1},{"age":5.27,"tnt":3.0},{"age":5.38,"tnt":3.7},{"age":5.52,"tnt":4.6},{"age":5.64,"tnt":3.3},{"age":5.77,"tnt":3.0},{"age":5.89,"tnt":4.0},{"age":6.02,"tnt":3.2},{"age":6.13,"tnt":3.0},{"age":6.27,"tnt":3.7},{"age":6.39,"tnt":4.4},{"age":6.52,"tnt":3.0},{"age":6.63,"tnt":3.4},{"age":6.77,"tnt":4.1},{"age":6.89,"tnt":3.0},{"age":7.02,"tnt":3.6},{"age":7.14,"tnt":4.6},{"age":7.27,"tnt":3.1},{"age":7.39,"tnt":3.0},{"age":7.52,"tnt":4.0},{"age":7.64,"tnt":3.4},{"age":7.77,"tnt":3.0},{"age":7.88,"tnt":4.3},{"age":8.02,"tnt":3.2},{"age":8.14,"tnt":3.0},{"age":8.27,"tnt":3.8},{"age":8.39,"tnt":4.5},{"age":8.52,"tnt":3.1},{"age":8.63,"tnt":3.0},{"age":8.77,"tnt":3.7},{"age":8.89,"tnt":4.4},{"age":9.02,"tnt":3.0},{"age":9.14,"tnt":3.5},{"age":9.27,"tnt":4.2},{"age":9.39,"tnt":3.0},{"age":9.52,"tnt":3.9},{"age":9.64,"tnt":4.8},{"age":9.77,"tnt":3.3},{"age":9.89,"tnt":3.0},{"age":10.02,"tnt":4.1},{"age":10.14,"tnt":3.6},{"age":10.27,"tnt":3.0},{"age":10.39,"tnt":4.6},{"age":10.52,"tnt":3.2},{"age":10.64,"tnt":3.0},{"age":10.77,"tnt":3.9},{"age":10.89,"tnt":4.9},{"age":11.02,"tnt":3.4},{"age":11.14,"tnt":3.0},{"age":11.27,"tnt":4.1},{"age":11.39,"tnt":4.5},{"age":11.52,"tnt":3.0},{"age":11.64,"tnt":3.7},{"age":11.77,"tnt":5.1},{"age":11.89,"tnt":3.0},{"age":12.02,"tnt":3.8},{"age":12.14,"tnt":4.5},{"age":12.27,"tnt":3.3},{"age":12.39,"tnt":3.0},{"age":12.52,"tnt":4.1},{"age":12.64,"tnt":5.0},{"age":12.77,"tnt":3.0},{"age":12.89,"tnt":3.6},{"age":13.02,"tnt":4.6},{"age":13.14,"tnt":3.0},{"age":13.27,"tnt":4.0},{"age":13.39,"tnt":5.4},{"age":13.52,"tnt":3.3},{"age":13.64,"tnt":3.0},{"age":13.77,"tnt":4.3},{"age":13.89,"tnt":5.0},{"age":14.02,"tnt":3.0},{"age":14.14,"tnt":3.9},{"age":14.27,"tnt":4.5},{"age":14.39,"tnt":3.0},{"age":14.52,"tnt":3.6},{"age":14.64,"tnt":5.2},{"age":14.77,"tnt":3.0},{"age":14.89,"tnt":4.2},{"age":15.02,"tnt":4.9},{"age":15.14,"tnt":3.4},{"age":15.27,"tnt":3.0},{"age":15.39,"tnt":4.1},{"age":15.52,"tnt":5.5},{"age":15.64,"tnt":3.0},{"age":15.77,"tnt":3.8},{"age":15.89,"tnt":4.7},{"age":16.02,"tnt":3.0},{"age":16.14,"tnt":4.3},{"age":16.27,"tnt":5.2},{"age":16.39,"tnt":3.3},{"age":16.52,"tnt":3.0},{"age":16.64,"tnt":4.0},{"age":16.77,"tnt":5.0},{"age":16.89,"tnt":3.0},{"age":17.02,"tnt":3.7},{"age":17.14,"tnt":5.4},{"age":17.27,"tnt":3.0},{"age":17.39,"tnt":4.2},{"age":17.52,"tnt":4.6},{"age":17.64,"tnt":3.0},{"age":17.77,"tnt":3.5},{"age":17.89,"tnt":5.1},{"age":17.99,"tnt":3.0},
      {"age":2.35,"tnt":3.0},{"age":2.58,"tnt":4.2},{"age":2.83,"tnt":3.0},{"age":3.07,"tnt":5.0},{"age":3.33,"tnt":3.0},{"age":3.58,"tnt":4.3},{"age":3.83,"tnt":3.0},{"age":4.08,"tnt":3.5},{"age":4.33,"tnt":3.0},{"age":4.58,"tnt":4.8},{"age":4.83,"tnt":3.0},{"age":5.08,"tnt":3.4},{"age":5.33,"tnt":3.0},{"age":5.58,"tnt":4.4},{"age":5.83,"tnt":3.0},{"age":6.08,"tnt":3.8},{"age":6.33,"tnt":3.0},{"age":6.58,"tnt":5.0},{"age":6.83,"tnt":3.0},{"age":7.08,"tnt":3.3},{"age":7.33,"tnt":3.0},{"age":7.58,"tnt":4.6},{"age":7.83,"tnt":3.0},{"age":8.08,"tnt":3.6},{"age":8.33,"tnt":3.0},{"age":8.58,"tnt":4.9},{"age":8.83,"tnt":3.0},{"age":9.08,"tnt":3.9},{"age":9.33,"tnt":3.0},{"age":9.58,"tnt":5.2},{"age":9.83,"tnt":3.0},{"age":10.08,"tnt":3.7},{"age":10.33,"tnt":3.0},{"age":10.58,"tnt":5.0},{"age":10.83,"tnt":3.0},{"age":11.08,"tnt":4.2},{"age":11.33,"tnt":3.0},{"age":11.58,"tnt":5.6},{"age":11.83,"tnt":3.0},{"age":12.08,"tnt":4.0},{"age":12.33,"tnt":3.0},{"age":12.58,"tnt":5.9},{"age":12.83,"tnt":3.0},{"age":13.08,"tnt":4.4},{"age":13.33,"tnt":3.0},{"age":13.58,"tnt":6.1},{"age":13.83,"tnt":3.0},{"age":14.08,"tnt":4.8},{"age":14.33,"tnt":3.0},{"age":14.58,"tnt":6.6},{"age":14.83,"tnt":3.0},{"age":15.08,"tnt":5.2},{"age":15.33,"tnt":3.0},{"age":15.58,"tnt":6.9},{"age":15.83,"tnt":3.0},{"age":16.08,"tnt":5.5},{"age":16.33,"tnt":3.0},{"age":16.58,"tnt":7.2},{"age":16.83,"tnt":3.0},{"age":17.08,"tnt":5.9},{"age":17.33,"tnt":3.0},{"age":17.58,"tnt":7.6},{"age":17.83,"tnt":3.0},
      {"age":12.12,"tnt":6.0},{"age":12.44,"tnt":5.3},{"age":12.72,"tnt":6.7},{"age":13.04,"tnt":5.9},{"age":13.4,"tnt":4.8},{"age":13.7,"tnt":6.3},{"age":13.96,"tnt":7.5},{"age":14.3,"tnt":5.7},{"age":14.6,"tnt":7.9},{"age":14.85,"tnt":6.3},{"age":15.1,"tnt":7.2},{"age":15.42,"tnt":5.9},{"age":15.68,"tnt":7.3},{"age":15.95,"tnt":8.2},{"age":16.2,"tnt":6.4},{"age":16.44,"tnt":8.6},{"age":16.72,"tnt":6.9},{"age":17.0,"tnt":7.8},{"age":17.3,"tnt":8.8},{"age":17.55,"tnt":6.5},{"age":17.8,"tnt":8.4},{"age":17.95,"tnt":9.2},{"age":13.2,"tnt":5.1},{"age":14.0,"tnt":6.6},{"age":15.2,"tnt":5.6},{"age":16.0,"tnt":6.8},{"age":16.9,"tnt":4.6},{"age":17.4,"tnt":6.0},{"age":17.7,"tnt":4.8}
    ],
    "female_curves": [
      {"pct":"P97.5","age":0.25,"tnt":37.7},{"pct":"P97.5","age":0.4,"tnt":26.0},{"pct":"P97.5","age":0.5,"tnt":21.5},{"pct":"P97.5","age":0.6,"tnt":18.0},{"pct":"P97.5","age":0.75,"tnt":14.5},{"pct":"P97.5","age":1,"tnt":11.3},{"pct":"P97.5","age":1.25,"tnt":9.8},{"pct":"P97.5","age":1.5,"tnt":9.0},{"pct":"P97.5","age":2,"tnt":8.0},{"pct":"P97.5","age":2.5,"tnt":7.4},{"pct":"P97.5","age":3,"tnt":7.0},{"pct":"P97.5","age":3.5,"tnt":7.1},{"pct":"P97.5","age":4,"tnt":7.4},{"pct":"P97.5","age":4.5,"tnt":7.5},{"pct":"P97.5","age":5,"tnt":7.2},{"pct":"P97.5","age":5.5,"tnt":6.7},{"pct":"P97.5","age":6,"tnt":6.4},{"pct":"P97.5","age":7,"tnt":6.2},{"pct":"P97.5","age":8,"tnt":6.2},{"pct":"P97.5","age":9,"tnt":5.9},{"pct":"P97.5","age":10,"tnt":5.5},{"pct":"P97.5","age":11,"tnt":5.4},{"pct":"P97.5","age":12,"tnt":5.5},{"pct":"P97.5","age":13,"tnt":5.6},{"pct":"P97.5","age":14,"tnt":5.7},{"pct":"P97.5","age":15,"tnt":5.9},{"pct":"P97.5","age":16,"tnt":6.2},{"pct":"P97.5","age":17,"tnt":6.5},{"pct":"P97.5","age":18,"tnt":6.8},
      {"pct":"P90","age":0.25,"tnt":33.0},{"pct":"P90","age":0.4,"tnt":23.0},{"pct":"P90","age":0.5,"tnt":19.0},{"pct":"P90","age":0.6,"tnt":16.0},{"pct":"P90","age":0.75,"tnt":12.8},{"pct":"P90","age":1,"tnt":9.9},{"pct":"P90","age":1.25,"tnt":8.4},{"pct":"P90","age":1.5,"tnt":7.6},{"pct":"P90","age":2,"tnt":6.5},{"pct":"P90","age":2.5,"tnt":6.0},{"pct":"P90","age":3,"tnt":5.7},{"pct":"P90","age":3.5,"tnt":5.6},{"pct":"P90","age":4,"tnt":5.6},{"pct":"P90","age":4.5,"tnt":5.6},{"pct":"P90","age":5,"tnt":5.4},{"pct":"P90","age":5.5,"tnt":5.2},{"pct":"P90","age":6,"tnt":5.1},{"pct":"P90","age":7,"tnt":5.0},{"pct":"P90","age":8,"tnt":4.9},{"pct":"P90","age":9,"tnt":4.85},{"pct":"P90","age":10,"tnt":4.8},{"pct":"P90","age":11,"tnt":4.8},{"pct":"P90","age":12,"tnt":4.8},{"pct":"P90","age":13,"tnt":4.85},{"pct":"P90","age":14,"tnt":4.9},{"pct":"P90","age":15,"tnt":4.95},{"pct":"P90","age":16,"tnt":5.0},{"pct":"P90","age":17,"tnt":5.05},{"pct":"P90","age":18,"tnt":5.1},
      {"pct":"P75","age":0.25,"tnt":22.2},{"pct":"P75","age":0.4,"tnt":16.5},{"pct":"P75","age":0.5,"tnt":13.8},{"pct":"P75","age":0.6,"tnt":11.8},{"pct":"P75","age":0.75,"tnt":9.6},{"pct":"P75","age":1,"tnt":7.4},{"pct":"P75","age":1.25,"tnt":6.3},{"pct":"P75","age":1.5,"tnt":5.7},{"pct":"P75","age":2,"tnt":5.0},{"pct":"P75","age":2.5,"tnt":4.6},{"pct":"P75","age":3,"tnt":4.4},{"pct":"P75","age":3.5,"tnt":4.3},{"pct":"P75","age":4,"tnt":4.2},{"pct":"P75","age":4.5,"tnt":4.2},{"pct":"P75","age":5,"tnt":4.1},{"pct":"P75","age":5.5,"tnt":4.0},{"pct":"P75","age":6,"tnt":3.9},{"pct":"P75","age":7,"tnt":3.8},{"pct":"P75","age":8,"tnt":3.7},{"pct":"P75","age":9,"tnt":3.65},{"pct":"P75","age":10,"tnt":3.6},{"pct":"P75","age":11,"tnt":3.6},{"pct":"P75","age":12,"tnt":3.55},{"pct":"P75","age":13,"tnt":3.5},{"pct":"P75","age":14,"tnt":3.5},{"pct":"P75","age":15,"tnt":3.45},{"pct":"P75","age":16,"tnt":3.4},{"pct":"P75","age":17,"tnt":3.35},{"pct":"P75","age":18,"tnt":3.3},
      {"pct":"P50","age":0.25,"tnt":17.5},{"pct":"P50","age":0.4,"tnt":13.0},{"pct":"P50","age":0.5,"tnt":11.0},{"pct":"P50","age":0.6,"tnt":9.4},{"pct":"P50","age":0.75,"tnt":7.7},{"pct":"P50","age":1,"tnt":6.2},{"pct":"P50","age":1.25,"tnt":5.3},{"pct":"P50","age":1.5,"tnt":4.8},{"pct":"P50","age":2,"tnt":4.2},{"pct":"P50","age":2.5,"tnt":3.8},{"pct":"P50","age":3,"tnt":3.6},{"pct":"P50","age":3.5,"tnt":3.5},{"pct":"P50","age":4,"tnt":3.4},{"pct":"P50","age":4.5,"tnt":3.4},{"pct":"P50","age":5,"tnt":3.35},{"pct":"P50","age":5.5,"tnt":3.3},{"pct":"P50","age":6,"tnt":3.25},{"pct":"P50","age":7,"tnt":3.2},{"pct":"P50","age":8,"tnt":3.1},{"pct":"P50","age":9,"tnt":3.05},{"pct":"P50","age":10,"tnt":3.0},{"pct":"P50","age":11,"tnt":3.0},{"pct":"P50","age":12,"tnt":2.95},{"pct":"P50","age":13,"tnt":2.9},{"pct":"P50","age":14,"tnt":2.9},{"pct":"P50","age":15,"tnt":2.85},{"pct":"P50","age":16,"tnt":2.85},{"pct":"P50","age":17,"tnt":2.8},{"pct":"P50","age":18,"tnt":2.8},
      {"pct":"P2.5","age":0.25,"tnt":8.2},{"pct":"P2.5","age":0.4,"tnt":6.2},{"pct":"P2.5","age":0.5,"tnt":5.2},{"pct":"P2.5","age":0.6,"tnt":4.4},{"pct":"P2.5","age":0.75,"tnt":3.6},{"pct":"P2.5","age":1,"tnt":2.8},{"pct":"P2.5","age":1.25,"tnt":2.3},{"pct":"P2.5","age":1.5,"tnt":2.0},{"pct":"P2.5","age":2,"tnt":1.7},{"pct":"P2.5","age":2.5,"tnt":1.6},{"pct":"P2.5","age":3,"tnt":1.5},{"pct":"P2.5","age":3.5,"tnt":1.5},{"pct":"P2.5","age":4,"tnt":1.45},{"pct":"P2.5","age":4.5,"tnt":1.45},{"pct":"P2.5","age":5,"tnt":1.45},{"pct":"P2.5","age":5.5,"tnt":1.5},{"pct":"P2.5","age":6,"tnt":1.5},{"pct":"P2.5","age":7,"tnt":1.5},{"pct":"P2.5","age":8,"tnt":1.5},{"pct":"P2.5","age":9,"tnt":1.5},{"pct":"P2.5","age":10,"tnt":1.5},{"pct":"P2.5","age":11,"tnt":1.5},{"pct":"P2.5","age":12,"tnt":1.5},{"pct":"P2.5","age":13,"tnt":1.5},{"pct":"P2.5","age":14,"tnt":1.45},{"pct":"P2.5","age":15,"tnt":1.4},{"pct":"P2.5","age":16,"tnt":1.35},{"pct":"P2.5","age":17,"tnt":1.25},{"pct":"P2.5","age":18,"tnt":1.15}
    ],
    "male_curves": [
      {"pct":"P97.5","age":0.25,"tnt":31.6},{"pct":"P97.5","age":0.4,"tnt":22.5},{"pct":"P97.5","age":0.5,"tnt":18.5},{"pct":"P97.5","age":0.6,"tnt":15.5},{"pct":"P97.5","age":0.75,"tnt":12.5},{"pct":"P97.5","age":1,"tnt":9.8},{"pct":"P97.5","age":1.25,"tnt":8.3},{"pct":"P97.5","age":1.5,"tnt":7.5},{"pct":"P97.5","age":2,"tnt":6.8},{"pct":"P97.5","age":3,"tnt":6.0},{"pct":"P97.5","age":4,"tnt":5.6},{"pct":"P97.5","age":5,"tnt":5.6},{"pct":"P97.5","age":6,"tnt":6.0},{"pct":"P97.5","age":6.5,"tnt":6.3},{"pct":"P97.5","age":7,"tnt":6.2},{"pct":"P97.5","age":8,"tnt":6.0},{"pct":"P97.5","age":9,"tnt":6.2},{"pct":"P97.5","age":10,"tnt":6.7},{"pct":"P97.5","age":11,"tnt":7.3},{"pct":"P97.5","age":12,"tnt":7.7},{"pct":"P97.5","age":13,"tnt":8.1},{"pct":"P97.5","age":14,"tnt":8.8},{"pct":"P97.5","age":14.5,"tnt":9.3},{"pct":"P97.5","age":15,"tnt":10.2},{"pct":"P97.5","age":15.5,"tnt":11.0},{"pct":"P97.5","age":16,"tnt":11.6},{"pct":"P97.5","age":16.5,"tnt":12.2},{"pct":"P97.5","age":17,"tnt":12.8},{"pct":"P97.5","age":17.5,"tnt":14.2},{"pct":"P97.5","age":18,"tnt":16.7},
      {"pct":"P90","age":0.25,"tnt":28.0},{"pct":"P90","age":0.4,"tnt":20.5},{"pct":"P90","age":0.5,"tnt":17.0},{"pct":"P90","age":0.6,"tnt":14.3},{"pct":"P90","age":0.75,"tnt":11.5},{"pct":"P90","age":1,"tnt":9.0},{"pct":"P90","age":1.25,"tnt":7.6},{"pct":"P90","age":1.5,"tnt":6.7},{"pct":"P90","age":2,"tnt":5.9},{"pct":"P90","age":3,"tnt":5.1},{"pct":"P90","age":4,"tnt":4.8},{"pct":"P90","age":5,"tnt":4.75},{"pct":"P90","age":6,"tnt":5.0},{"pct":"P90","age":6.5,"tnt":5.15},{"pct":"P90","age":7,"tnt":5.1},{"pct":"P90","age":8,"tnt":5.0},{"pct":"P90","age":9,"tnt":5.1},{"pct":"P90","age":10,"tnt":5.5},{"pct":"P90","age":11,"tnt":6.0},{"pct":"P90","age":12,"tnt":6.3},{"pct":"P90","age":13,"tnt":6.6},{"pct":"P90","age":14,"tnt":6.9},{"pct":"P90","age":14.5,"tnt":7.2},{"pct":"P90","age":15,"tnt":7.8},{"pct":"P90","age":15.5,"tnt":8.3},{"pct":"P90","age":16,"tnt":8.6},{"pct":"P90","age":16.5,"tnt":9.0},{"pct":"P90","age":17,"tnt":9.6},{"pct":"P90","age":17.5,"tnt":11.0},{"pct":"P90","age":18,"tnt":13.3},
      {"pct":"P75","age":0.25,"tnt":20.3},{"pct":"P75","age":0.4,"tnt":15.0},{"pct":"P75","age":0.5,"tnt":12.6},{"pct":"P75","age":0.6,"tnt":10.8},{"pct":"P75","age":0.75,"tnt":8.8},{"pct":"P75","age":1,"tnt":6.8},{"pct":"P75","age":1.25,"tnt":5.6},{"pct":"P75","age":1.5,"tnt":5.0},{"pct":"P75","age":2,"tnt":4.3},{"pct":"P75","age":3,"tnt":3.8},{"pct":"P75","age":4,"tnt":3.6},{"pct":"P75","age":5,"tnt":3.55},{"pct":"P75","age":6,"tnt":3.6},{"pct":"P75","age":6.5,"tnt":3.6},{"pct":"P75","age":7,"tnt":3.6},{"pct":"P75","age":8,"tnt":3.7},{"pct":"P75","age":9,"tnt":3.8},{"pct":"P75","age":10,"tnt":4.1},{"pct":"P75","age":11,"tnt":4.4},{"pct":"P75","age":12,"tnt":4.6},{"pct":"P75","age":13,"tnt":4.8},{"pct":"P75","age":14,"tnt":5.0},{"pct":"P75","age":14.5,"tnt":5.1},{"pct":"P75","age":15,"tnt":5.3},{"pct":"P75","age":15.5,"tnt":5.5},{"pct":"P75","age":16,"tnt":5.7},{"pct":"P75","age":16.5,"tnt":6.0},{"pct":"P75","age":17,"tnt":6.3},{"pct":"P75","age":17.5,"tnt":6.9},{"pct":"P75","age":18,"tnt":8.0},
      {"pct":"P50","age":0.25,"tnt":16.4},{"pct":"P50","age":0.4,"tnt":12.3},{"pct":"P50","age":0.5,"tnt":10.4},{"pct":"P50","age":0.6,"tnt":8.9},{"pct":"P50","age":0.75,"tnt":7.3},{"pct":"P50","age":1,"tnt":5.7},{"pct":"P50","age":1.25,"tnt":4.7},{"pct":"P50","age":1.5,"tnt":4.1},{"pct":"P50","age":2,"tnt":3.5},{"pct":"P50","age":3,"tnt":3.2},{"pct":"P50","age":4,"tnt":3.1},{"pct":"P50","age":5,"tnt":3.05},{"pct":"P50","age":6,"tnt":3.05},{"pct":"P50","age":6.5,"tnt":3.05},{"pct":"P50","age":7,"tnt":3.05},{"pct":"P50","age":8,"tnt":3.1},{"pct":"P50","age":9,"tnt":3.2},{"pct":"P50","age":10,"tnt":3.4},{"pct":"P50","age":11,"tnt":3.7},{"pct":"P50","age":12,"tnt":3.9},{"pct":"P50","age":13,"tnt":4.0},{"pct":"P50","age":14,"tnt":4.2},{"pct":"P50","age":14.5,"tnt":4.3},{"pct":"P50","age":15,"tnt":4.4},{"pct":"P50","age":15.5,"tnt":4.5},{"pct":"P50","age":16,"tnt":4.55},{"pct":"P50","age":16.5,"tnt":4.7},{"pct":"P50","age":17,"tnt":4.9},{"pct":"P50","age":17.5,"tnt":5.3},{"pct":"P50","age":18,"tnt":6.0},
      {"pct":"P2.5","age":0.25,"tnt":6.1},{"pct":"P2.5","age":0.4,"tnt":4.6},{"pct":"P2.5","age":0.5,"tnt":3.9},{"pct":"P2.5","age":0.6,"tnt":3.4},{"pct":"P2.5","age":0.75,"tnt":2.8},{"pct":"P2.5","age":1,"tnt":2.3},{"pct":"P2.5","age":1.25,"tnt":2.0},{"pct":"P2.5","age":1.5,"tnt":1.85},{"pct":"P2.5","age":2,"tnt":1.7},{"pct":"P2.5","age":3,"tnt":1.55},{"pct":"P2.5","age":4,"tnt":1.5},{"pct":"P2.5","age":5,"tnt":1.45},{"pct":"P2.5","age":6,"tnt":1.45},{"pct":"P2.5","age":6.5,"tnt":1.45},{"pct":"P2.5","age":7,"tnt":1.45},{"pct":"P2.5","age":8,"tnt":1.45},{"pct":"P2.5","age":9,"tnt":1.45},{"pct":"P2.5","age":10,"tnt":1.45},{"pct":"P2.5","age":11,"tnt":1.4},{"pct":"P2.5","age":12,"tnt":1.35},{"pct":"P2.5","age":13,"tnt":1.3},{"pct":"P2.5","age":14,"tnt":1.25},{"pct":"P2.5","age":14.5,"tnt":1.2},{"pct":"P2.5","age":15,"tnt":1.25},{"pct":"P2.5","age":15.5,"tnt":1.3},{"pct":"P2.5","age":16,"tnt":1.35},{"pct":"P2.5","age":16.5,"tnt":1.45},{"pct":"P2.5","age":17,"tnt":1.5},{"pct":"P2.5","age":17.5,"tnt":1.55},{"pct":"P2.5","age":18,"tnt":1.6}
    ]
  },
  "vconcat": [
    {
      "width": 666,
      "height": 245,
      "title": {"text": "female"},
      "layer": [
        {
          "data": {"name": "female_points"},
          "mark": {"type": "point", "filled": true, "size": 6, "color": "#000", "opacity": 1},
          "encoding": {
            "x": {"field": "age", "type": "quantitative", "scale": {"domain": [-0.9, 18.9], "nice": false, "zero": false}, "axis": null},
            "y": {"field": "tnt", "type": "quantitative", "scale": {"domain": [-1.1, 47], "nice": false, "zero": false}, "axis": {"values": [0, 10, 20, 30, 40], "title": "hs−Troponin T (ng/l)", "titleX": -23, "titleY": 259}}
          }
        },
        {
          "data": {"name": "female_curves"},
          "mark": {"type": "line", "color": "#1a1a1a", "strokeWidth": 1.1, "interpolate": "monotone"},
          "encoding": {
            "x": {"field": "age", "type": "quantitative"},
            "y": {"field": "tnt", "type": "quantitative"},
            "detail": {"field": "pct", "type": "nominal"}
          }
        }
      ]
    },
    {
      "width": 666,
      "height": 245,
      "title": {"text": "male"},
      "layer": [
        {
          "data": {"name": "male_points"},
          "mark": {"type": "point", "filled": true, "size": 6, "color": "#000", "opacity": 1},
          "encoding": {
            "x": {"field": "age", "type": "quantitative", "scale": {"domain": [-0.9, 18.9], "nice": false, "zero": false}, "axis": {"values": [0, 5, 10, 15], "title": "Age (years)"}},
            "y": {"field": "tnt", "type": "quantitative", "scale": {"domain": [-1.1, 47], "nice": false, "zero": false}, "axis": {"values": [0, 10, 20, 30, 40], "title": null}}
          }
        },
        {
          "data": {"name": "male_curves"},
          "mark": {"type": "line", "color": "#1a1a1a", "strokeWidth": 1.1, "interpolate": "monotone"},
          "encoding": {
            "x": {"field": "age", "type": "quantitative"},
            "y": {"field": "tnt", "type": "quantitative"},
            "detail": {"field": "pct", "type": "nominal"}
          }
        }
      ]
    }
  ]
}
